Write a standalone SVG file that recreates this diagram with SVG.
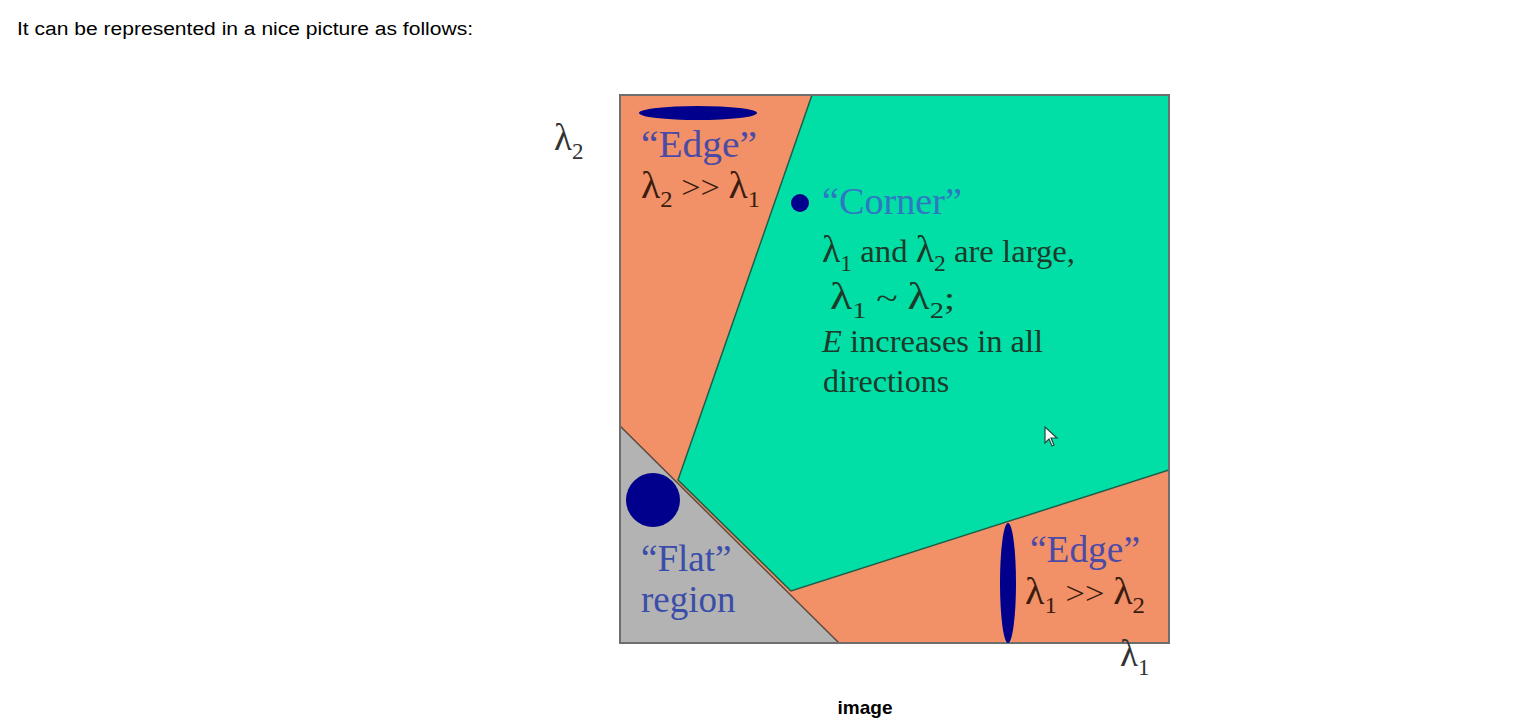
<svg xmlns="http://www.w3.org/2000/svg" width="1530" height="728" viewBox="0 0 1530 728">
<style>
.ser{font-family:"Liberation Serif","Times New Roman",serif}
.big{font-size:37px}
.body{font-size:32px}
.edge{fill:#4B4BA6}
.dk-o{fill:#3A1D0E}
.dk-g{fill:#1D3A2A}
.navy{fill:#00008C}
.sub{font-size:23px}
.lam{font-size:37px}
</style>
<rect width="1530" height="728" fill="#ffffff"/>
<text x="17" y="35" font-family="Liberation Sans, Arial, sans-serif" font-size="18" fill="#000" textLength="456" lengthAdjust="spacingAndGlyphs">It can be represented in a nice picture as follows:</text>

<g id="regions">
  <rect x="620" y="95" width="549" height="548" fill="#F29068"/>
  <polygon points="620,426 839,643 620,643" fill="#B3B3B3"/>
  <line x1="620" y1="426" x2="839" y2="643" stroke="#5a4a40" stroke-width="1.5"/>
  <polygon points="812,95 1169,95 1169,470 791,591 678,480" fill="#02DFA6" stroke="#1E5E48" stroke-width="1.5"/>
  <rect x="620" y="95" width="549" height="548" fill="none" stroke="#6E6E6E" stroke-width="2"/>
</g>

<g id="edge-top">
  <ellipse cx="698" cy="113" rx="59" ry="7" class="navy"/>
  <text x="641" y="157" class="ser big edge" textLength="116" lengthAdjust="spacingAndGlyphs">“Edge”</text>
  <text x="641" y="198" class="ser body dk-o" textLength="119" lengthAdjust="spacingAndGlyphs"><tspan class="lam">λ</tspan><tspan class="sub" dy="9">2</tspan><tspan dy="-9"> &gt;&gt; </tspan><tspan class="lam">λ</tspan><tspan class="sub" dy="9">1</tspan></text>
</g>

<g id="corner">
  <circle cx="800" cy="203" r="9" class="navy"/>
  <text x="822" y="214" class="ser big" fill="#2E78C2" textLength="140" lengthAdjust="spacingAndGlyphs">“Corner”</text>
  <text x="822" y="262" class="ser body dk-g" textLength="253" lengthAdjust="spacingAndGlyphs"><tspan class="lam">λ</tspan><tspan class="sub" dy="9">1</tspan><tspan dy="-9"> and </tspan><tspan class="lam">λ</tspan><tspan class="sub" dy="9">2</tspan><tspan dy="-9"> are large,</tspan></text>
  <text x="830" y="309" class="ser body dk-g" textLength="125" lengthAdjust="spacingAndGlyphs"><tspan class="lam">λ</tspan><tspan class="sub" dy="9">1</tspan><tspan dy="-9"> ~ </tspan><tspan class="lam">λ</tspan><tspan class="sub" dy="9">2</tspan><tspan dy="-9">;</tspan></text>
  <text x="822" y="352" class="ser body dk-g" textLength="221" lengthAdjust="spacingAndGlyphs"><tspan font-style="italic">E</tspan> increases in all</text>
  <text x="823" y="392" class="ser body dk-g">directions</text>
</g>

<g id="flat">
  <circle cx="653" cy="500" r="27" class="navy"/>
  <text x="641" y="571" class="ser big" fill="#3A4DA8">“Flat”</text>
  <text x="641" y="612" class="ser big" fill="#3A4DA8">region</text>
</g>

<g id="edge-bottom">
  <ellipse cx="1008" cy="583" rx="8" ry="60" class="navy"/>
  <text x="1030" y="562" class="ser big edge" textLength="110" lengthAdjust="spacingAndGlyphs">“Edge”</text>
  <text x="1025" y="604" class="ser body dk-o" textLength="120" lengthAdjust="spacingAndGlyphs"><tspan class="lam">λ</tspan><tspan class="sub" dy="9">1</tspan><tspan dy="-9"> &gt;&gt; </tspan><tspan class="lam">λ</tspan><tspan class="sub" dy="9">2</tspan></text>
</g>

<g id="axes">
  <text x="554" y="150" class="ser lam" fill="#333">λ<tspan class="sub" dy="9">2</tspan></text>
  <text x="1120" y="666" class="ser lam" fill="#333">λ<tspan class="sub" dy="9">1</tspan></text>
</g>

<g id="cursor">
  <polygon points="1045,427 1045,443 1049,439 1052,446 1054,445 1051,438 1057,438" fill="#ffffff" stroke="#1E4A3C" stroke-width="1.2"/>
</g>

<text x="865" y="714" text-anchor="middle" font-family="Liberation Sans, Arial, sans-serif" font-size="19" font-weight="bold" fill="#000">image</text>
</svg>
